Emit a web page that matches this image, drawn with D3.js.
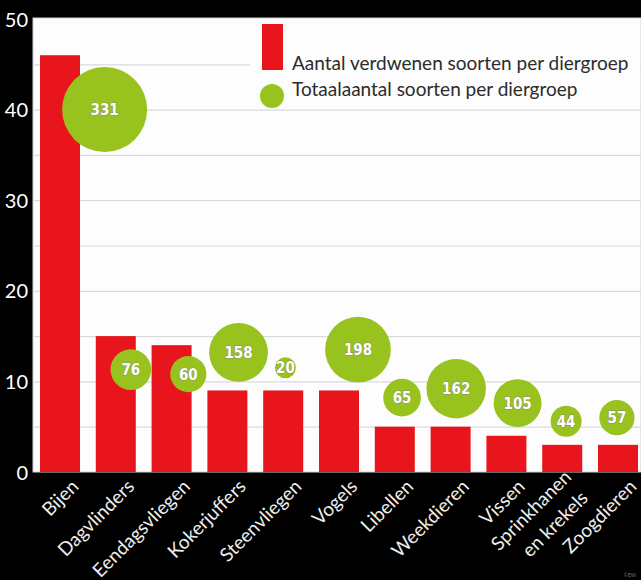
<!DOCTYPE html>
<html>
<head>
<meta charset="utf-8">
<script src="https://cdn.jsdelivr.net/npm/d3@7"></script>
<style>
  html, body { margin: 0; padding: 0; background: #000; }
  svg { display: block; }
</style>
</head>
<body>
<svg id="chart" width="641" height="580"></svg>
<script>
// ---- data ----
const categories = ["Bijen", "Dagvlinders", "Eendagsvliegen", "Kokerjuffers", "Steenvliegen",
  "Vogels", "Libellen", "Weekdieren", "Vissen", "Sprinkhanen en krekels", "Zoogdieren"];
const categoryLines = [["Bijen"], ["Dagvlinders"], ["Eendagsvliegen"], ["Kokerjuffers"], ["Steenvliegen"],
  ["Vogels"], ["Libellen"], ["Weekdieren"], ["Vissen"], ["Sprinkhanen", "en krekels"], ["Zoogdieren"]];
const disappeared = [46, 15, 14, 9, 9, 9, 5, 5, 4, 3, 3];
const totalSpecies = [331, 76, 60, 158, 20, 198, 65, 162, 105, 44, 57];
// bubble placement in data units (category index, y value)
const bubbleIndex = [0.8, 1.27, 2.3, 3.2, 4.04, 5.34, 6.13, 7.1, 8.2, 9.07, 9.98];
const bubbleY = [40, 11.3, 10.8, 13.2, 11.5, 13.5, 8.2, 9.2, 7.6, 5.6, 6.0];
const yTicks = [0, 10, 20, 30, 40, 50];
const gridValues = [5, 10, 15, 20, 25, 30, 35, 40, 45];
const legendLabels = ["Aantal verdwenen soorten per diergroep", "Totaalaantal soorten per diergroep"];

// ---- layout ----
const W = 641, H = 580;
const plot = { left: 33, top: 18, right: 641, bottom: 472 };
const RED = "#e8161c", GREEN = "#98c21d";
const FONT = "Lato, 'Open Sans', sans-serif";

const svg = d3.select("#chart");
svg.append("rect").attr("width", W).attr("height", H).attr("fill", "#000");
svg.append("rect")
  .attr("x", plot.left).attr("y", plot.top)
  .attr("width", plot.right - plot.left).attr("height", plot.bottom - plot.top)
  .attr("fill", "#fdfdfd").attr("stroke", "#c9d3dc").attr("stroke-width", 1);

const x = d3.scaleBand().domain(categories).range([33, 645]).paddingInner(0.283).paddingOuter(0.125);
const y = d3.scaleLinear().domain([0, 50]).range([plot.bottom, 19]);
const r = d3.scaleSqrt().domain([0, 331]).range([0, 42.5]);
const xi = d3.scaleLinear().domain([0, 1])
  .range([x(categories[0]) + x.bandwidth() / 2, x(categories[0]) + x.bandwidth() / 2 + x.step()]);

// gridlines
svg.append("g").selectAll("line").data(gridValues).join("line")
  .attr("x1", plot.left + 1).attr("x2", plot.right)
  .attr("y1", d => y(d) + 0.5).attr("y2", d => y(d) + 0.5)
  .attr("stroke", "#d9dadb").attr("stroke-width", 1.2);

// legend backdrop (covers grid line behind legend)
svg.append("rect").attr("x", 250).attr("y", 20).attr("width", 390).attr("height", 82).attr("fill", "#fdfdfd");

// bars
svg.append("g").selectAll("rect").data(categories).join("rect")
  .attr("x", d => x(d))
  .attr("y", (d, i) => y(disappeared[i]))
  .attr("width", x.bandwidth())
  .attr("height", (d, i) => y(0) - y(disappeared[i]))
  .attr("fill", RED);

// bubbles
const bub = svg.append("g").selectAll("g").data(categories).join("g")
  .attr("transform", (d, i) => `translate(${xi(bubbleIndex[i])},${y(bubbleY[i])})`);
bub.append("circle")
  .attr("r", (d, i) => r(totalSpecies[i]))
  .attr("fill", GREEN);
bub.append("text")
  .text((d, i) => totalSpecies[i])
  .attr("text-anchor", "middle").attr("dy", "0.36em")
  .attr("font-family", "'DejaVu Sans Condensed', 'Liberation Sans Narrow', sans-serif")
  .attr("font-weight", "bold").attr("font-size", 15)
  .attr("fill", "#fff")
  .attr("stroke", "#8a8a7a").attr("stroke-width", 0.8)
  .attr("paint-order", "stroke");

// y axis
const yAxis = d3.axisLeft(y).tickValues(yTicks).tickSize(0).tickPadding(4);
const gy = svg.append("g").attr("transform", `translate(${plot.left - 1},0)`).call(yAxis);
gy.select(".domain").remove();
gy.selectAll("text").attr("fill", "#fff").attr("font-family", FONT).attr("font-size", 20)
  .attr("dy", "0.35em");

// x axis labels
const xAxis = d3.axisBottom(x).tickSize(0).tickFormat("");
const gx = svg.append("g").attr("transform", `translate(0,${plot.bottom})`).call(xAxis);
gx.select(".domain").remove();
gx.selectAll(".tick").each(function (d, i) {
  const lines = categoryLines[i];
  const n = lines.length;
  const t = d3.select(this).append("text")
    .attr("transform", "translate(10,6) rotate(-45)")
    .attr("text-anchor", "end")
    .attr("fill", "#eee").attr("font-family", FONT).attr("font-size", 19);
  lines.forEach((ln, k) => {
    t.append("tspan").attr("x", k === 0 ? 0 : -3).attr("y", 0)
      .attr("dy", (0.72 + (k - (n - 1) / 2) * 1.4) + "em").text(ln);
  });
});

// legend
const lg = svg.append("g");
lg.append("rect").attr("x", 262).attr("y", 24).attr("width", 21).attr("height", 46).attr("fill", RED);
lg.append("circle").attr("cx", 272).attr("cy", 96).attr("r", 12).attr("fill", GREEN);
lg.selectAll("text").data(legendLabels).join("text")
  .attr("x", 292).attr("y", (d, i) => 70 + i * 26)
  .attr("fill", "#2b2b2b").attr("font-family", FONT).attr("font-size", 19)
  .text(d => d);

// tiny credit mark
svg.append("text").attr("x", 636).attr("y", 577).attr("text-anchor", "end")
  .attr("fill", "#777").attr("font-family", FONT).attr("font-size", 5).text("©EW");
</script>
</body>
</html>
